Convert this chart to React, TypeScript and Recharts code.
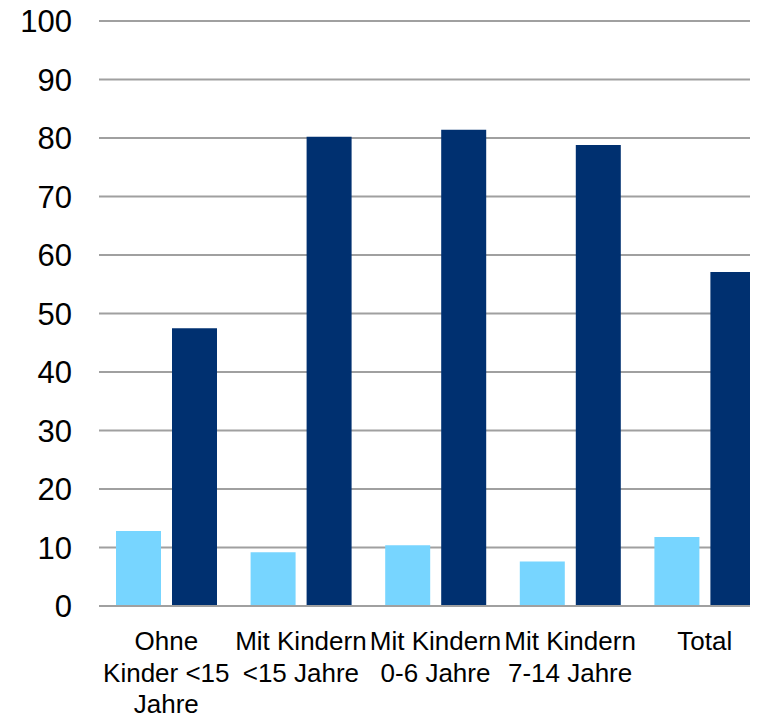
import React from 'react';
import { BarChart, Bar, XAxis, YAxis, CartesianGrid } from 'recharts';

const categories = [
  'Ohne\nKinder <15\nJahre',
  'Mit Kindern\n<15 Jahre',
  'Mit Kindern\n0-6 Jahre',
  'Mit Kindern\n7-14 Jahre',
  'Total',
];
const seriesLight = [12.8, 9.2, 10.4, 7.6, 11.8];
const seriesDark = [47.5, 80.2, 81.4, 78.8, 57.1];
const yTicks = [0, 10, 20, 30, 40, 50, 60, 70, 80, 90, 100];

const data = categories.map((c, i) => ({ name: c, light: seriesLight[i], dark: seriesDark[i] }));

const FONT = '"Liberation Sans", Arial, sans-serif';

const XTick = (props: any) => {
  const { x, y, payload } = props;
  const lines = String(payload.value).split('\n');
  return (
    <text x={x} y={y} textAnchor="middle" fontFamily={FONT} fontSize={26} fill="#000">
      {lines.map((l, i) => (
        <tspan key={i} x={x} y={y + 44 + i * 31.5}>
          {l}
        </tspan>
      ))}
    </text>
  );
};

export default function App() {
  return (
    <div style={{ width: 750, height: 708, overflow: 'hidden' }}>
      <BarChart
        width={770}
        height={708}
        data={data}
        margin={{ top: 13, right: 6, bottom: 0, left: 0 }}
        barGap={11}
        barSize={45}
      >
        <CartesianGrid vertical={false} stroke="#a0a0a0" strokeWidth={2} />
        <XAxis
          dataKey="name"
          height={110}
          tickLine={false}
          axisLine={{ stroke: '#a0a0a0', strokeWidth: 2 }}
          tickSize={0}
          tickMargin={0}
          interval={0}
          tick={<XTick />}
        />
        <YAxis
          width={91}
          domain={[0, 100]}
          ticks={yTicks}
          interval={0}
          axisLine={false}
          tickLine={false}
          tickMargin={21}
          tick={{ fontSize: 31, fill: '#000', fontFamily: FONT }}
        />
        <Bar dataKey="light" fill="#77d5ff" isAnimationActive={false} />
        <Bar dataKey="dark" fill="#003070" isAnimationActive={false} />
      </BarChart>
    </div>
  );
}
